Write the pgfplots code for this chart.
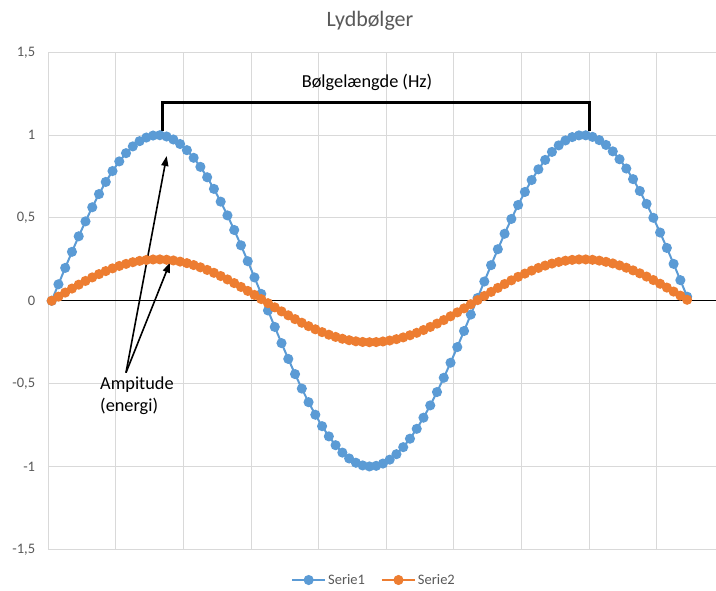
\documentclass[border=0pt]{standalone}
\usepackage{fontspec}
\setmainfont{Carlito}
\usepackage{pgfplots}
\pgfplotsset{compat=1.18}
\usepackage{pgfplotstable}
\usetikzlibrary{arrows.meta}
\definecolor{sone}{HTML}{5B9BD5}
\definecolor{stwo}{HTML}{ED7D31}
\definecolor{gridc}{HTML}{D9D9D9}
\definecolor{txt}{HTML}{595959}
\pgfplotstableread{
k s1 s2
0 0 0
1 0.0998 0.0250
2 0.1987 0.0497
3 0.2955 0.0739
4 0.3894 0.0974
5 0.4794 0.1199
6 0.5646 0.1412
7 0.6442 0.1611
8 0.7174 0.1794
9 0.7833 0.1958
10 0.8415 0.2104
11 0.8912 0.2228
12 0.9320 0.2330
13 0.9636 0.2409
14 0.9854 0.2464
15 0.9975 0.2494
16 0.9996 0.2499
17 0.9917 0.2479
18 0.9738 0.2435
19 0.9463 0.2366
20 0.9093 0.2273
21 0.8632 0.2158
22 0.8085 0.2021
23 0.7457 0.1864
24 0.6755 0.1689
25 0.5985 0.1496
26 0.5155 0.1289
27 0.4274 0.1069
28 0.3350 0.0838
29 0.2392 0.0598
30 0.1411 0.0353
31 0.0416 0.0104
32 -0.0584 -0.0146
33 -0.1577 -0.0394
34 -0.2555 -0.0639
35 -0.3508 -0.0877
36 -0.4425 -0.1106
37 -0.5298 -0.1325
38 -0.6119 -0.1530
39 -0.6878 -0.1720
40 -0.7568 -0.1892
41 -0.8183 -0.2046
42 -0.8716 -0.2179
43 -0.9162 -0.2291
44 -0.9516 -0.2379
45 -0.9775 -0.2444
46 -0.9937 -0.2484
47 -0.9999 -0.2500
48 -0.9962 -0.2491
49 -0.9825 -0.2456
50 -0.9589 -0.2397
51 -0.9258 -0.2315
52 -0.8835 -0.2209
53 -0.8323 -0.2081
54 -0.7728 -0.1932
55 -0.7055 -0.1764
56 -0.6313 -0.1578
57 -0.5507 -0.1377
58 -0.4646 -0.1162
59 -0.3739 -0.0935
60 -0.2794 -0.0699
61 -0.1822 -0.0456
62 -0.0831 -0.0208
63 0.0168 0.0042
64 0.1165 0.0291
65 0.2151 0.0538
66 0.3115 0.0779
67 0.4048 0.1012
68 0.4941 0.1235
69 0.5784 0.1446
70 0.6570 0.1643
71 0.7290 0.1823
72 0.7937 0.1984
73 0.8504 0.2126
74 0.8987 0.2247
75 0.9380 0.2345
76 0.9679 0.2420
77 0.9882 0.2471
78 0.9985 0.2496
79 0.9989 0.2497
80 0.9894 0.2474
81 0.9699 0.2425
82 0.9407 0.2352
83 0.9022 0.2256
84 0.8546 0.2137
85 0.7985 0.1996
86 0.7344 0.1836
87 0.6630 0.1658
88 0.5849 0.1462
89 0.5010 0.1253
90 0.4121 0.1030
91 0.3191 0.0798
92 0.2229 0.0557
93 0.1245 0.0311
94 0.0248 0.0062
}\data
\begin{document}
\begin{tikzpicture}
\fill[white, use as bounding box] (-48.3pt,-40.7pt) rectangle (667.7pt,549.3pt);
\begin{axis}[
  at={(0pt,0pt)}, anchor=south west,
  scale only axis, width=667.7pt, height=497pt,
  xmin=-0.5, xmax=98.27, ymin=-1.5, ymax=1.5,
  clip=false,
  axis line style={draw=none},
  major tick length=0pt,
  xtick={-0.5,9.5,19.5,29.5,39.5,49.5,59.5,69.5,79.5,89.5},
  xticklabels={},
  ytick={-1.5,-1,-0.5,0.5,1,1.5},
  yticklabels={{-1,5},{-1},{-0,5},{0,5},{1},{1,5}},
  extra y ticks={0},
  extra y tick labels={0},
  extra y tick style={grid style={black, line width=1.2pt}},
  xmajorgrids, ymajorgrids,
  grid style={gridc, line width=1pt},
  yticklabel style={font=\fontsize{14.5}{17}\selectfont, text=txt, inner sep=0pt, anchor=east, xshift=-13pt},
  legend columns=2,
  legend style={draw=none, fill=none, at={(0.4878,-0.0618)}, anchor=center,
    font=\fontsize{14.5}{17}\selectfont, text=txt,
    /tikz/every even column/.append style={column sep=14pt}},
  legend image code/.code={\draw[mark repeat=2,mark phase=2] plot coordinates {(0pt,0pt) (16.5pt,0pt) (33pt,0pt)};},
]
\addplot[sone, line width=2pt, mark=*, mark size=4pt, mark options={solid, fill=sone, draw=none}] table[x=k,y=s1] {\data};
\addlegendentry{Serie1}
\addplot[stwo, line width=2pt, mark=*, mark size=4pt, mark options={solid, fill=stwo, draw=none}] table[x=k,y=s2] {\data};
\addlegendentry{Serie2}
\node[anchor=base, font=\fontsize{22}{26}\selectfont, text=txt] at (rel axis cs:0.4818,1.0529) {Lydbølger};
\draw[line width=3pt, black, line join=miter] (axis cs:16.42,1.027) -- (axis cs:16.42,1.197) -- (axis cs:79.63,1.197) -- (axis cs:79.63,1.027);
\node[font=\fontsize{18.3}{21.7}\selectfont, text=black] at (axis cs:46.65,1.319) {Bølgelængde (Hz)};
\draw[line width=1.6pt, black, -{Triangle[length=10pt,width=7pt]}] (axis cs:10.99,-0.434) -- (axis cs:17.01,0.874);
\draw[line width=1.6pt, black, -{Triangle[length=10pt,width=7pt]}] (axis cs:10.99,-0.434) -- (axis cs:17.5,0.231);
\node[font=\fontsize{18.3}{21.7}\selectfont, text=black, align=left, anchor=west, inner sep=0pt] at (axis cs:7.15,-0.571) {Ampitude\\(energi)};
\end{axis}
\end{tikzpicture}
\end{document}
